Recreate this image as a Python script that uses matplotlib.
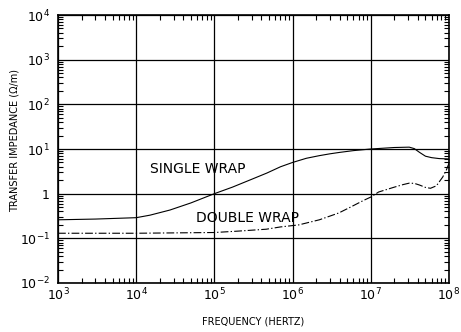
import matplotlib
matplotlib.use("Agg")
import matplotlib.pyplot as plt
from matplotlib.ticker import LogLocator, FixedLocator, FixedFormatter, NullFormatter

# Transfer impedance of braided shields vs. frequency
single_freq = [1e3, 3e3, 1e4, 1.5e4, 2.7e4, 5e4, 1e5, 1.7e5, 3e5, 4.7e5, 7e5, 1e6,
               1.5e6, 2.2e6, 3e6, 4e6, 6e6, 1e7, 2e7, 3.1e7, 3.6e7, 4.2e7, 5e7,
               6e7, 7.5e7, 1e8]
single_z = [0.26, 0.27, 0.29, 0.33, 0.43, 0.62, 1.0, 1.4, 2.1, 2.9, 4.0, 5.0,
            6.2, 7.1, 7.8, 8.4, 9.2, 10.0, 10.8, 11.0, 10.2, 8.4, 6.9,
            6.4, 6.1, 6.0]

double_freq = [1e3, 1e4, 1e5, 2e5, 4.6e5, 7e5, 1.2e6, 2.2e6, 3.9e6, 5.5e6, 8e6,
               1e7, 1.26e7, 2e7, 2.6e7, 3.1e7, 3.6e7, 4.2e7, 5e7, 5.8e7, 6.9e7,
               8.3e7, 9.2e7, 1e8]
double_z = [0.13, 0.13, 0.135, 0.145, 0.16, 0.18, 0.20, 0.26, 0.37, 0.5, 0.7,
            0.84, 1.09, 1.4, 1.6, 1.72, 1.7, 1.56, 1.38, 1.32, 1.5,
            2.35, 3.3, 4.8]

y_ticks = [1e-2, 1e-1, 1, 1e1, 1e2, 1e3, 1e4]
y_labels = [r"10$^{-2}$", r"10$^{-1}$", "1", r"10$^{1}$", r"10$^{2}$", r"10$^{3}$", r"10$^{4}$"]
x_ticks = [1e3, 1e4, 1e5, 1e6, 1e7, 1e8]
x_labels = [r"10$^{3}$", r"10$^{4}$", r"10$^{5}$", r"10$^{6}$", r"10$^{7}$", r"10$^{8}$"]

fig = plt.figure(figsize=(4.61, 3.32), dpi=100)
ax = fig.add_axes([58 / 461, 1 - 283 / 332, (449 - 58) / 461, (283 - 15) / 332])

ax.set_xscale("log")
ax.set_yscale("log")
ax.set_xlim(1e3, 1e8)
ax.set_ylim(1e-2, 1e4)

ax.plot(single_freq, single_z, color="black", lw=0.8)
ax.plot(double_freq, double_z, color="black", lw=0.8, linestyle=(0, (7, 2, 1.2, 2)))

ax.xaxis.set_major_locator(FixedLocator(x_ticks))
ax.xaxis.set_major_formatter(FixedFormatter(x_labels))
ax.yaxis.set_major_locator(FixedLocator(y_ticks))
ax.yaxis.set_major_formatter(FixedFormatter(y_labels))
ax.xaxis.set_minor_locator(LogLocator(base=10, subs=range(2, 10), numticks=20))
ax.yaxis.set_minor_locator(LogLocator(base=10, subs=range(2, 10), numticks=20))
ax.xaxis.set_minor_formatter(NullFormatter())
ax.yaxis.set_minor_formatter(NullFormatter())

ax.grid(True, which="major", color="black", lw=0.9)
ax.tick_params(which="both", direction="in", top=True, right=True, colors="black")
ax.tick_params(which="major", length=0, labelsize=9)
ax.tick_params(axis="x", which="major", pad=3)
ax.tick_params(axis="y", which="major", pad=6)
ax.tick_params(which="minor", length=3.5, width=0.8)
for s in ax.spines.values():
    s.set_linewidth(1.2)
    s.set_color("black")

ax.text(1.5e4, 2.9, "SINGLE WRAP", fontsize=10, ha="left", va="baseline")
ax.text(5.9e4, 0.23, "DOUBLE WRAP", fontsize=10, ha="left", va="baseline")

fig.text(253 / 461, 1 - 322 / 332, "FREQUENCY (HERTZ)", fontsize=7, ha="center", va="center")
fig.text(15 / 461, 1 - 140 / 332, "TRANSFER IMPEDANCE (\u03a9/m)", fontsize=7,
         rotation=90, ha="center", va="center")

fig.savefig("out.png", dpi=100)
